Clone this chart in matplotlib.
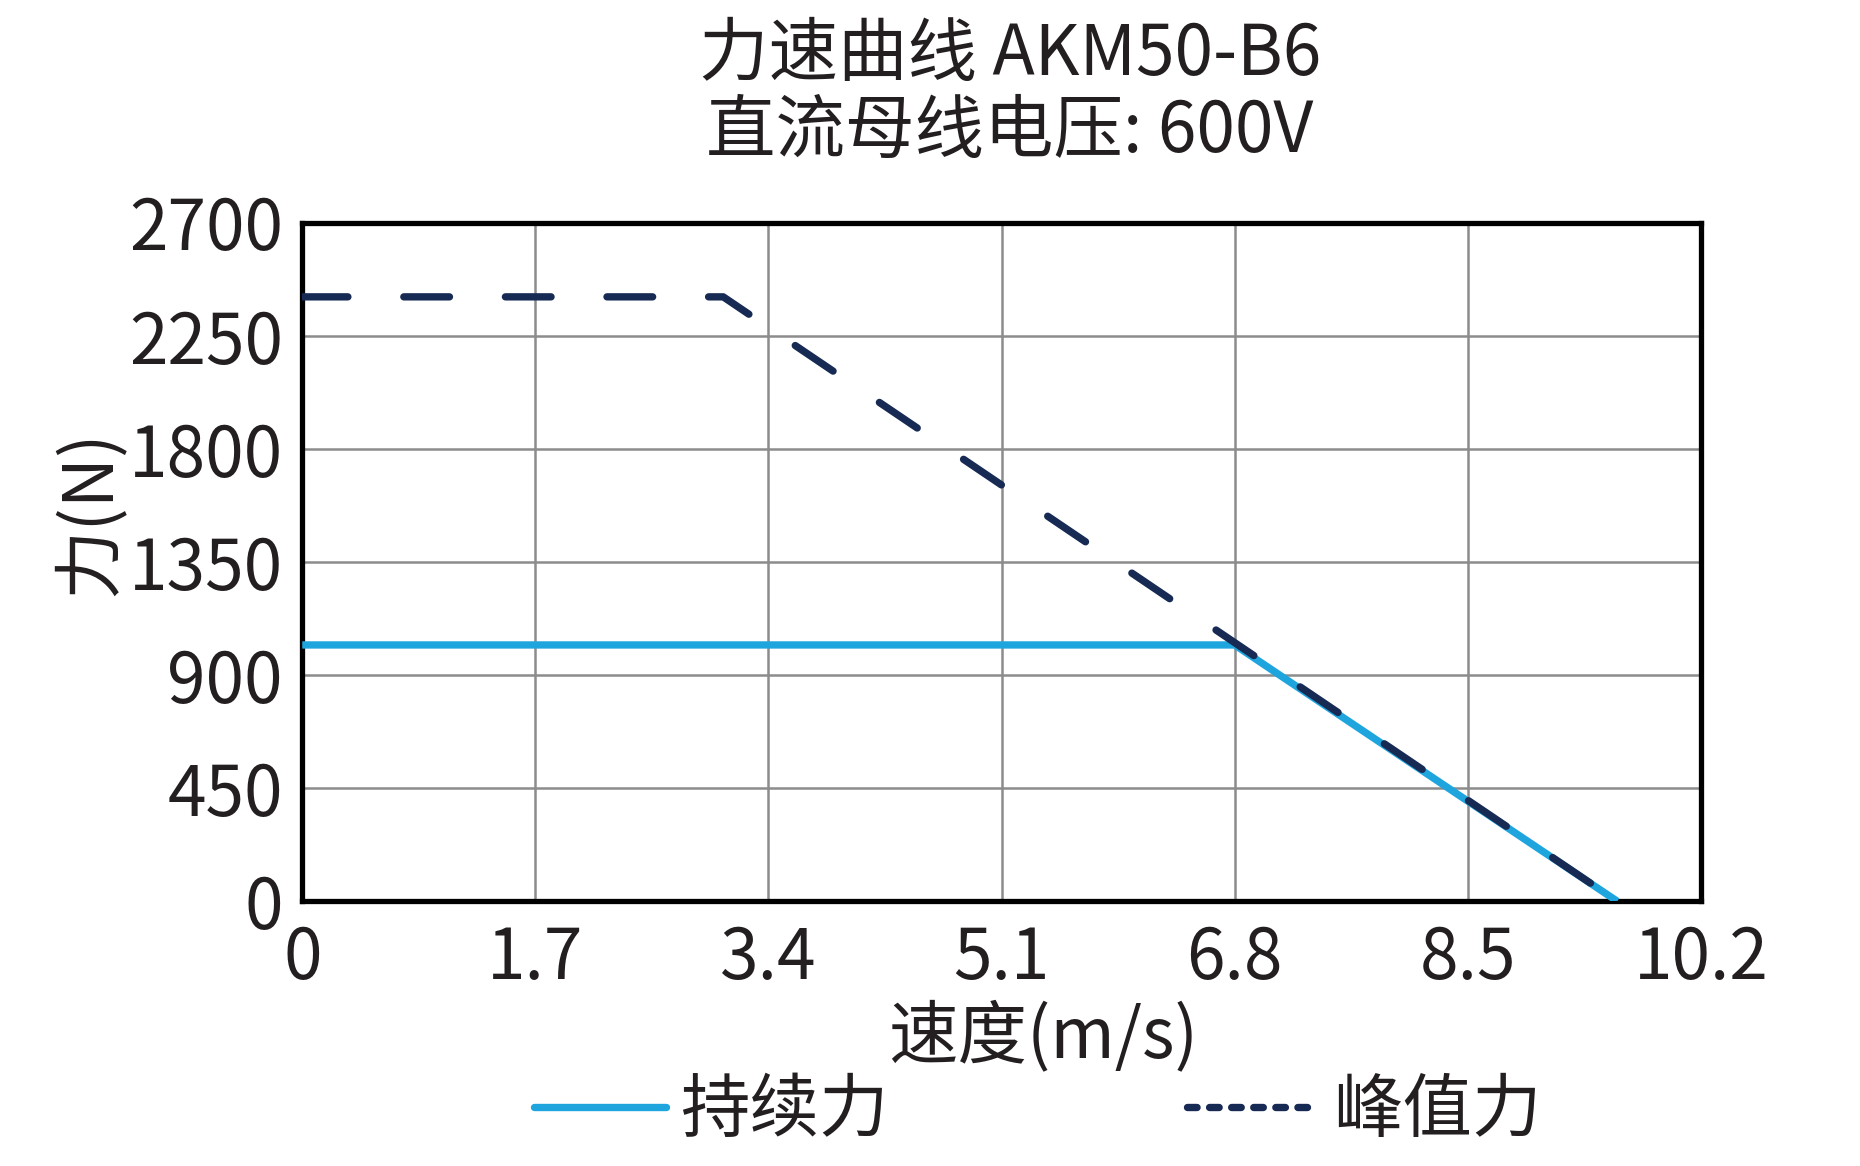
import matplotlib
matplotlib.use("Agg")
import matplotlib.pyplot as plt
from matplotlib.lines import Line2D

plt.rcParams['font.family'] = ['Noto Sans CJK SC', 'DejaVu Sans']
plt.rcParams['axes.unicode_minus'] = False

# 数据
cont_speed = [0, 6.8, 9.59]
cont_force = [1020, 1020, 0]
peak_speed = [0, 3.07, 9.59]
peak_force = [2405, 2405, 0]

x_ticks = [0, 1.7, 3.4, 5.1, 6.8, 8.5, 10.2]
x_labels = ['0', '1.7', '3.4', '5.1', '6.8', '8.5', '10.2']
y_ticks = [0, 450, 900, 1350, 1800, 2250, 2700]

title_text = '力速曲线 AKM50-B6\n直流母线电压: 600V'
x_title = '速度(m/s)'
y_title = '力(N)'
series_names = ['持续力', '峰值力']

blue = '#1fa5de'
navy = '#172a54'
txt = '#231f20'
fs = 50
lw = 5.3

fig = plt.figure(figsize=(18.6, 11.66), dpi=100)
ax = fig.add_axes([0.1625, 0.227, 0.752, 0.582])

# 持续力在下, 峰值力虚线压在上面
ax.plot(cont_speed, cont_force, color=blue, lw=lw, solid_capstyle='butt',
        solid_joinstyle='miter', zorder=3)
ax.plot(peak_speed, peak_force, color=navy, lw=lw, dashes=(6.2, 7.6),
        dash_capstyle='round', zorder=4)

ax.set_xlim(0, 10.2)
ax.set_ylim(0, 2700)
ax.set_xticks(x_ticks)
ax.set_xticklabels(x_labels)
ax.set_yticks(y_ticks)
ax.tick_params(axis='both', length=0, labelsize=fs, labelcolor=txt)
ax.tick_params(axis='x', pad=16)
ax.tick_params(axis='y', pad=14)
ax.grid(True, color='#8c8c8c', lw=1.8)
ax.set_axisbelow(True)
for sp in ax.spines.values():
    sp.set_linewidth(3.8)
    sp.set_color('black')

fig.text(0.543, 0.92, title_text, ha='center', va='center', fontsize=fs,
         color=txt, linespacing=1.1)
fig.text(0.561, 0.110, x_title, ha='center', va='center', fontsize=fs, color=txt)
fig.text(0.048, 0.56, y_title, ha='center', va='center', fontsize=fs,
         color=txt, rotation=90)

handles = [
    Line2D([], [], color=blue, lw=lw, solid_capstyle='round'),
    Line2D([], [], color=navy, lw=lw, dashes=(1.3, 1.7), dash_capstyle='round'),
]
fig.legend(handles, series_names, loc='center', bbox_to_anchor=(0.558, 0.047),
           ncol=2, frameon=False, fontsize=fs, handlelength=1.9,
           handletextpad=0.2, columnspacing=4.3, labelcolor=txt)

fig.savefig('out.png', dpi=100)
